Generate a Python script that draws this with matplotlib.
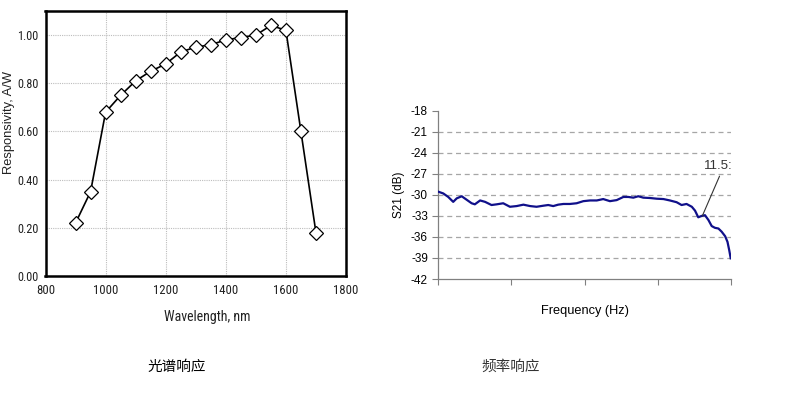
import matplotlib
matplotlib.use("Agg")
import matplotlib.pyplot as plt
from matplotlib import font_manager
from matplotlib.font_manager import FontProperties

plt.rcParams['font.family'] = ['Liberation Sans', 'DejaVu Sans']

# look for an installed narrow/condensed sans font (regular weight)
narrow_path = None
cands = []
for f in font_manager.fontManager.ttflist:
    key = (f.name + ' ' + f.fname).lower()
    if ('narrow' in key or 'condensed' in key) and 'semicondensed' not in key \
            and 'extracondensed' not in key and f.style == 'normal' \
            and f.weight in (400, 'normal', 'regular') and 'mono' not in key \
            and 'serif' not in f.name.lower():
        cands.append(f.fname)
if cands:
    cands.sort(key=lambda p: (0 if 'liberation' in p.lower() else
                              1 if 'roboto' in p.lower() else 2, p))
    narrow_path = cands[0]


def nfont(size):
    if narrow_path:
        return FontProperties(fname=narrow_path, size=size)
    return FontProperties(family=['Liberation Sans', 'DejaVu Sans'], size=size * 0.82)


cjk = ['Noto Sans CJK SC', 'DejaVu Sans']

# ---- left chart data: spectral response ----
wavelength = [900, 950, 1000, 1050, 1100, 1150, 1200, 1250, 1300, 1350,
              1400, 1450, 1500, 1550, 1600, 1650, 1700]
responsivity = [0.22, 0.35, 0.68, 0.75, 0.81, 0.85, 0.88, 0.93, 0.95, 0.96,
                0.98, 0.99, 1.00, 1.04, 1.02, 0.60, 0.18]
left_xticks = [800, 1000, 1200, 1400, 1600, 1800]
left_yticks = [0.0, 0.2, 0.4, 0.6, 0.8, 1.0]

# ---- right chart data: frequency response (relative frequency 0..100) ----
freq = [0, 1.7, 3.4, 5.1, 6.3, 8.0, 9.7, 11.4, 12.5, 14.3, 16.0, 18.2, 20.0,
        22.2, 24.5, 26.8, 29.1, 31.4, 33.6, 35.9, 37.6, 39.3, 41.0, 42.8,
        45.0, 47.3, 49.6, 51.9, 54.2, 56.4, 58.7, 61.0, 63.3, 65.0, 66.7,
        68.4, 70.1, 72.4, 74.7, 77.0, 79.2, 81.5, 83.2, 84.9, 86.7, 87.8,
        88.9, 90.1, 91.2, 92.4, 93.5, 94.6, 95.8, 96.9, 98.1, 98.9, 99.5, 100]
s21 = [-29.55, -29.8, -30.3, -31.0, -30.5, -30.2, -30.7, -31.2, -31.35, -30.8,
       -31.0, -31.45, -31.35, -31.2, -31.7, -31.6, -31.4, -31.6, -31.7, -31.55,
       -31.45, -31.6, -31.4, -31.3, -31.3, -31.2, -30.9, -30.8, -30.8, -30.6,
       -30.9, -30.75, -30.3, -30.3, -30.4, -30.2, -30.4, -30.45, -30.55, -30.6,
       -30.8, -31.05, -31.45, -31.3, -31.7, -32.25, -33.2, -33.0, -32.9, -33.6,
       -34.45, -34.7, -34.8, -35.25, -35.9, -36.7, -37.9, -39.05]
right_yticks = [-18, -21, -24, -27, -30, -33, -36, -39, -42]
right_xticks = [0, 25, 50, 75, 100]
annot_label = "11.5:"
annot_point = (90.3, -33.0)

W, H = 792, 394
fig = plt.figure(figsize=(W / 100, H / 100), dpi=100)

# ---------------- left chart ----------------
l, r, t, b = 45.5, 346, 11, 276
ax1 = fig.add_axes([l / W, 1 - b / H, (r - l) / W, (b - t) / H])
ax1.plot(wavelength, responsivity, color='black', lw=1.2, marker='D',
         markersize=7, markerfacecolor='white', markeredgecolor='black',
         markeredgewidth=0.9, zorder=3, clip_on=False)
ax1.set_xlim(800, 1800)
ax1.set_ylim(0, 1.1)
ax1.set_xticks(left_xticks)
ax1.set_yticks(left_yticks)
ax1.set_xticklabels([str(v) for v in left_xticks], fontproperties=nfont(9.2), color='#222222')
ax1.set_yticklabels([f"{v:.2f}" for v in left_yticks], fontproperties=nfont(8.8), color='#222222')
ax1.tick_params(axis='x', length=0, pad=6)
ax1.tick_params(axis='y', length=0, pad=5)
ax1.grid(True, color='#bdbdbd', linestyle=(0, (1, 1)), linewidth=0.8)
for s in ax1.spines.values():
    s.set_linewidth(1.8)
    s.set_color('black')
ax1.set_xlabel("Wavelength, nm", fontproperties=nfont(10), color='#222222')
ax1.xaxis.set_label_coords((207 - l) / (r - l), -(310 - b) / (b - t))
ax1.set_ylabel("Responsivity, A/W", fontsize=9.3, color='#222222')
ax1.yaxis.set_label_coords(-(l - 15) / (r - l), (b - 122) / (b - t))

# ---------------- right chart ----------------
l2, r2, t2, b2 = 438.3, 730.7, 110.7, 279
ax2 = fig.add_axes([l2 / W, 1 - b2 / H, (r2 - l2) / W, (b2 - t2) / H])
ax2.plot(freq, s21, color='#10108a', lw=1.6, zorder=3)
ax2.set_xlim(0, 100)
ax2.set_ylim(-42, -18)
ax2.set_yticks(right_yticks)
ax2.set_yticklabels([str(v) for v in right_yticks], fontsize=8.5)
ax2.set_xticks(right_xticks)
ax2.set_xticklabels([])
ax2.tick_params(axis='both', length=4, color='#808080', direction='out', width=0.8)
for y in right_yticks[1:-1]:
    ax2.axhline(y, color='#a6a6a6', linestyle=(0, (4, 3)), linewidth=0.9, zorder=1)
for s in ['top', 'right']:
    ax2.spines[s].set_visible(False)
for s in ['left', 'bottom']:
    ax2.spines[s].set_color('#808080')
    ax2.spines[s].set_linewidth(0.9)
ax2.set_xlabel("Frequency (Hz)", fontsize=9.2)
ax2.xaxis.set_label_coords(0.5, -(305 - b2) / (b2 - t2))
ax2.set_ylabel("S21 (dB)", fontsize=8.5, labelpad=4)
ax2.annotate(annot_label, xy=annot_point, xytext=(95.8, -25.9),
             fontsize=9.5, color='#333333', ha='center', va='center',
             annotation_clip=False,
             arrowprops=dict(arrowstyle='-', color='#333333', lw=0.8,
                             relpos=(0.6, 0.0), shrinkA=1, shrinkB=0))

# ---------------- captions ----------------
fig.text(177 / W, 1 - 367 / H, "光谱响应", family=cjk, fontsize=10.5,
         ha='center', va='center')
fig.text(511 / W, 1 - 367 / H, "频率响应", family=cjk, fontsize=10.5,
         ha='center', va='center', color='#333333')

fig.savefig("out.png", dpi=100)
